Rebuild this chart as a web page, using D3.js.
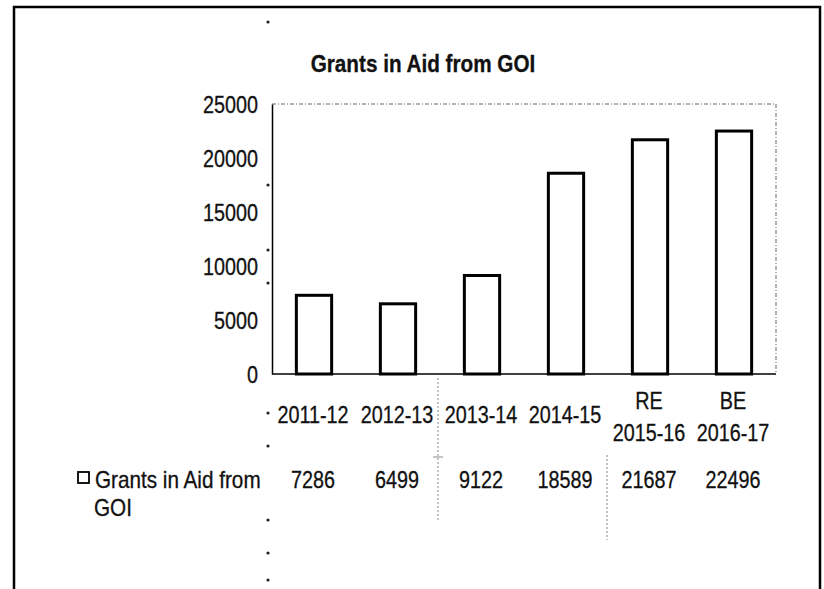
<!DOCTYPE html>
<html>
<head>
<meta charset="utf-8">
<script src="https://cdn.jsdelivr.net/npm/d3@7"></script>
<style>
  body { margin: 0; background: #fff; }
  text { font-family: "Liberation Sans", Arial, sans-serif; fill: #111; stroke: #111; stroke-width: 0.3px; }
</style>
</head>
<body>
<div id="chart"></div>
<script>
const years = ["2011-12", "2012-13", "2013-14", "2014-15", "2015-16", "2016-17"];
const prefixes = ["", "", "", "", "RE", "BE"];
const grants = [7286, 6499, 9122, 18589, 21687, 22496];
const yTicks = [0, 5000, 10000, 15000, 20000, 25000];
const seriesName = ["Grants in Aid from", "GOI"];

const width = 824, height = 589;
const plot = { left: 272, right: 776, top: 104, bottom: 374 };
const squeeze = 0.86; // the scan uses a narrow face

const svg = d3.select("#chart")
  .append("svg")
  .attr("width", width)
  .attr("height", height);

// narrow text: draw at origin, then translate + squeeze horizontally
const label = (parent, str, x, y, anchor = "middle", sx = squeeze) =>
  parent.append("text")
    .attr("transform", `translate(${x},${y}) scale(${sx},1)`)
    .attr("text-anchor", anchor)
    .style("font-size", "23px")
    .text(str);

// outer frame (bottom edge is cut off)
svg.append("path")
  .attr("d", `M14,${height} V7 H820 V${height}`)
  .attr("fill", "none")
  .attr("stroke", "#000")
  .attr("stroke-width", 2.5);

const x = d3.scaleBand()
  .domain(years)
  .range([plot.left, plot.right])
  .paddingInner(0.58)
  .paddingOuter(0.29);

const y = d3.scaleLinear()
  .domain([0, 25000])
  .range([plot.bottom, plot.top]);

// title
label(svg, "Grants in Aid from GOI", 423, 72, "middle", 0.9)
  .attr("font-weight", 700);

// plot area top and right edges (faint dotted)
svg.append("path")
  .attr("d", `M${plot.left},${plot.top} H${plot.right} V${plot.bottom}`)
  .attr("fill", "none")
  .attr("stroke", "#666")
  .attr("stroke-width", 1)
  .attr("stroke-dasharray", "4,2,1,2");

// y axis
const yAxis = svg.append("g")
  .attr("transform", `translate(${plot.left},0)`)
  .call(d3.axisLeft(y).tickValues(yTicks).tickSize(0).tickFormat(""));
yAxis.select(".domain").attr("stroke", "#000").attr("stroke-width", 1.5);

yAxis.selectAll(".tick").each(function (d) {
  label(d3.select(this), d3.format("d")(d), -14, 8, "end");
});

// bars
svg.selectAll("rect.bar")
  .data(grants)
  .enter()
  .append("rect")
  .attr("class", "bar")
  .attr("x", (d, i) => x(years[i]))
  .attr("y", d => y(d))
  .attr("width", x.bandwidth())
  .attr("height", d => y(0) - y(d))
  .attr("fill", "#fff")
  .attr("stroke", "#000")
  .attr("stroke-width", 3);

// x baseline
svg.append("line")
  .attr("x1", plot.left).attr("x2", plot.right)
  .attr("y1", y(0)).attr("y2", y(0))
  .attr("stroke", "#000")
  .attr("stroke-width", 1.5);

// category labels (RE / BE on a line above the year)
const cats = svg.append("g");
years.forEach((d, i) => {
  const cx = x(d) + x.bandwidth() / 2 - 1;
  if (prefixes[i]) {
    label(cats, prefixes[i], cx, 409);
    label(cats, d, cx, 441);
  } else {
    label(cats, d, cx, 423);
  }
});

// data table row
const row = svg.append("g");
row.append("rect")
  .attr("x", 78).attr("y", 472)
  .attr("width", 11).attr("height", 11)
  .attr("fill", "#fff")
  .attr("stroke", "#000")
  .attr("stroke-width", 1.8);
label(row, seriesName[0], 95, 488, "start", 0.9);
label(row, seriesName[1], 94, 516, "start", 0.9);

grants.forEach((d, i) => {
  label(row, d, x(years[i]) + x.bandwidth() / 2 - 1, 488);
});

// faint table grid remnants
[[438, 378, 520], [607, 455, 540]].forEach(([gx, y1, y2]) => {
  svg.append("line")
    .attr("x1", gx).attr("x2", gx)
    .attr("y1", y1).attr("y2", y2)
    .attr("stroke", "#888")
    .attr("stroke-width", 1)
    .attr("stroke-dasharray", "2,2");
});
svg.append("line")
  .attr("x1", 433).attr("x2", 443)
  .attr("y1", 457).attr("y2", 457)
  .attr("stroke", "#888");

// scan dots along the left edge
svg.append("g").selectAll("circle")
  .data([22, 185, 250, 283, 413, 446, 520, 553, 580])
  .enter()
  .append("circle")
  .attr("cx", 268)
  .attr("cy", d => d)
  .attr("r", 1.6)
  .attr("fill", "#222");
</script>
</body>
</html>
